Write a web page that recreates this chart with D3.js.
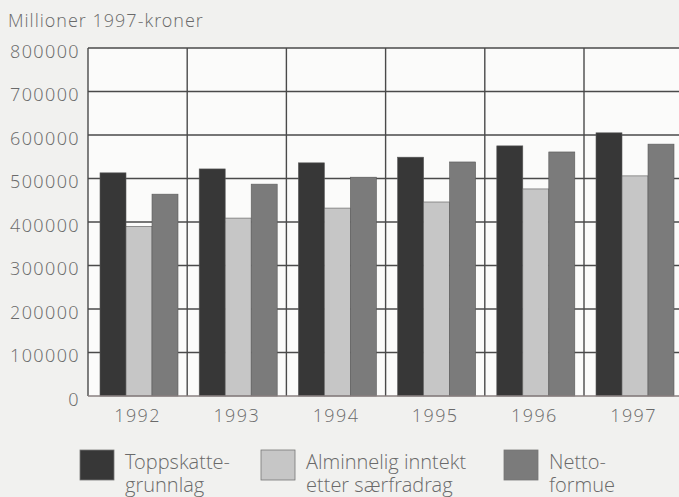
<!DOCTYPE html>
<html>
<head>
<meta charset="utf-8">
<script src="https://cdn.jsdelivr.net/npm/d3@7"></script>
<style>
  body { margin: 0; background: #f1f1ef; }
  svg { display: block; font-family: "Open Sans Light", "Open Sans", "Noto Sans", sans-serif; font-weight: 300; }
</style>
</head>
<body>
<svg width="679" height="497"></svg>
<script>
// data
const years = ["1992", "1993", "1994", "1995", "1996", "1997"];
const series = ["Toppskatte", "Alminnelig", "Netto"];
const toppskatt = [513000, 522000, 536000, 549000, 575000, 605000];
const alminnelig = [390000, 409000, 432000, 446000, 476000, 506000];
const netto = [464000, 487000, 503000, 538000, 561000, 579000];
const yTicks = [0, 100000, 200000, 300000, 400000, 500000, 600000, 700000, 800000];
const legendLines = [["Toppskatte-", "grunnlag"], ["Alminnelig inntekt", "etter særfradrag"], ["Netto-", "formue"]];

const colors = ["#373737", "#c6c6c6", "#7b7b7b"];

const svg = d3.select("svg"),
  plotLeft = 88, plotTop = 48, plotBottom = 396, bandW = 99.2;

const x = d3.scaleBand()
  .domain(years)
  .range([plotLeft, plotLeft + bandW * years.length])
  .padding(0);

const xs = d3.scaleBand()
  .domain(series)
  .range([12, 90]);

const y = d3.scaleLinear()
  .domain([0, 800000])
  .range([plotBottom, plotTop]);

// plot background
svg.append("rect")
  .attr("x", plotLeft).attr("y", plotTop)
  .attr("width", 679 - plotLeft).attr("height", plotBottom - plotTop)
  .attr("fill", "#fbfbfa");

// grid
svg.append("g").selectAll("line")
  .data(yTicks.slice(1))
  .enter().append("line")
  .attr("x1", plotLeft).attr("x2", 679)
  .attr("y1", d => y(d)).attr("y2", d => y(d))
  .attr("stroke", "#4a4a4a").attr("stroke-width", 1.4);

svg.append("g").selectAll("line")
  .data(years)
  .enter().append("line")
  .attr("x1", d => x(d)).attr("x2", d => x(d))
  .attr("y1", plotTop).attr("y2", plotBottom)
  .attr("stroke", "#4a4a4a").attr("stroke-width", 1.4);

// bars
const rows = years.map((yr, i) => ({year: yr, vals: [toppskatt[i], alminnelig[i], netto[i]]}));

const groups = svg.append("g").selectAll("g")
  .data(rows)
  .enter().append("g")
  .attr("transform", d => "translate(" + x(d.year) + ",0)");

groups.selectAll("rect")
  .data(d => d.vals.map((v, j) => ({s: series[j], v: v, c: colors[j]})))
  .enter().append("rect")
  .attr("x", d => xs(d.s))
  .attr("width", xs.bandwidth())
  .attr("y", d => y(d.v))
  .attr("height", d => plotBottom - y(d.v))
  .attr("fill", d => d.c)
  .attr("stroke", "#5a5a5a")
  .attr("stroke-width", 0.6);

// x axis line
svg.append("line")
  .attr("x1", plotLeft).attr("x2", 679)
  .attr("y1", plotBottom).attr("y2", plotBottom)
  .attr("stroke", "#8a8080").attr("stroke-width", 1.5);

// y labels
svg.append("g").selectAll("text")
  .data(yTicks)
  .enter().append("text")
  .attr("x", 80)
  .attr("y", d => y(d) + 9.5)
  .attr("text-anchor", "end")
  .attr("font-size", 18)
  .attr("letter-spacing", 1.4)
  .attr("fill", "#6a6a6a")
  .text(d => d);

// x labels
svg.append("g").selectAll("text")
  .data(years)
  .enter().append("text")
  .attr("x", d => x(d) + x.bandwidth() / 2)
  .attr("y", 422)
  .attr("text-anchor", "middle")
  .attr("font-size", 18)
  .attr("letter-spacing", 1.4)
  .attr("fill", "#6a6a6a")
  .text(d => d);

svg.append("text")
  .attr("x", 8).attr("y", 27)
  .attr("font-size", 18)
  .attr("letter-spacing", 1.0)
  .attr("fill", "#6a6a6a")
  .text("Millioner 1997-kroner");

// legend
const legendX = [80, 261, 504];
const legend = svg.append("g").selectAll("g")
  .data(legendLines)
  .enter().append("g")
  .attr("transform", (d, i) => "translate(" + legendX[i] + ",450)");

legend.append("rect")
  .attr("width", 34).attr("height", 30)
  .attr("fill", (d, i) => colors[i])
  .attr("stroke", "#777").attr("stroke-width", 0.8);

legend.append("text")
  .attr("font-size", 20)
  .attr("fill", "#6a6a6a")
  .selectAll("tspan")
  .data(d => d)
  .enter().append("tspan")
  .attr("x", 45)
  .attr("y", (d, i) => 19 + i * 23)
  .text(d => d);
</script>
</body>
</html>
